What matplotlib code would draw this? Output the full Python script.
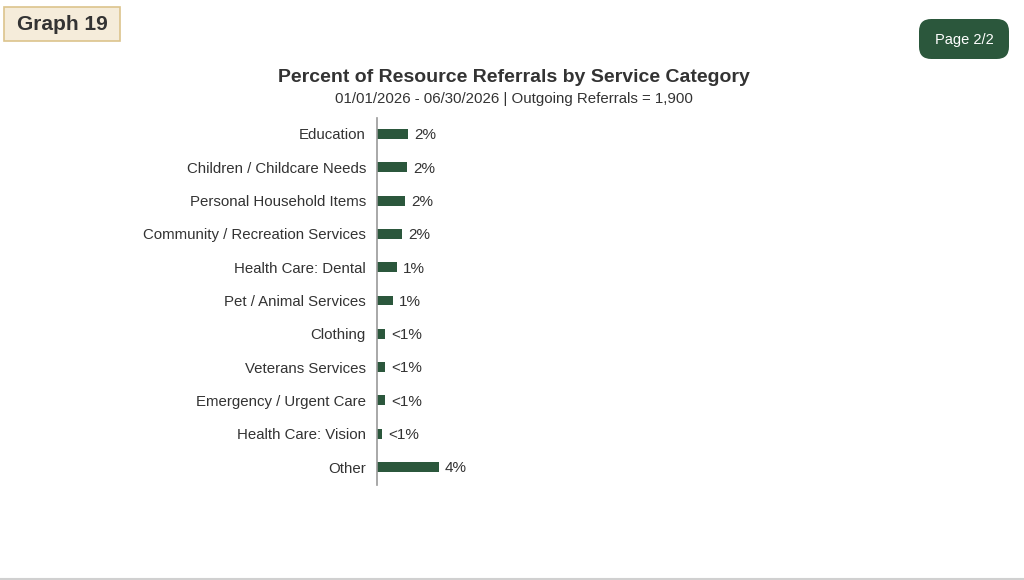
import numpy as np
import matplotlib
matplotlib.use('Agg')
import matplotlib.pyplot as plt
from matplotlib.patches import FancyBboxPatch, Rectangle

plt.rcParams['font.family'] = ['Liberation Sans', 'DejaVu Sans']

categories = ['Education', 'Children / Childcare Needs', 'Personal Household Items',
              'Community / Recreation Services', 'Health Care: Dental', 'Pet / Animal Services',
              'Clothing', 'Veterans Services', 'Emergency / Urgent Care', 'Health Care: Vision',
              'Other']
values = [2.0, 1.95, 1.8, 1.6, 1.3, 1.05, 0.52, 0.52, 0.52, 0.33, 4.0]
labels = ['2%', '2%', '2%', '2%', '1%', '1%', '<1%', '<1%', '<1%', '<1%', '4%']

bar_color = '#2b573c'
text_color = '#333333'

fig = plt.figure(figsize=(10.24, 5.8), dpi=100)
W, H = 1024, 580

# plot area in pixels: x 377..1000, y 118..485
ax = fig.add_axes([377 / W, 1 - 485 / H, (1000 - 377) / W, (485 - 118) / H])
y = np.arange(len(categories))
ax.barh(y, values, height=0.3, color=bar_color)
px_per_pct = 15.5
ax.set_xlim(0, (1000 - 377) / px_per_pct)
ax.set_ylim(10.54, -0.48)
for yi, v, lab in zip(y, values, labels):
    ax.text(v + 6 / px_per_pct, yi + 0.04, lab, va='center', ha='left', fontsize=11, color=text_color)
ax.set_yticks(y)
ax.set_yticklabels(categories, fontsize=10.8, color=text_color)
ax.tick_params(axis='y', length=0, pad=8)
ax.set_xticks([])
for s in ['top', 'right', 'bottom']:
    ax.spines[s].set_visible(False)
ax.spines['left'].set_color('#999999')
ax.spines['left'].set_linewidth(1.2)

fig.text(514 / W, 1 - 78 / H, 'Percent of Resource Referrals by Service Category',
         ha='center', va='center', fontsize=14, fontweight='bold', color=text_color)
fig.text(514 / W, 1 - 99 / H, '01/01/2026 - 06/30/2026 | Outgoing Referrals = 1,900',
         ha='center', va='center', fontsize=10.8, color=text_color)

# "Graph 19" box
fig.patches.append(Rectangle((4 / W, 1 - 41 / H), 116 / W, 34 / H, transform=fig.transFigure,
                             facecolor='#f5ecda', edgecolor='#dcc48c', linewidth=1.2))
fig.text(62 / W, 1 - 24 / H, 'Graph 19', ha='center', va='center', fontsize=15,
         fontweight='bold', color=text_color)

# "Page 2/2" button
fig.patches.append(FancyBboxPatch((919 / W, 1 - 59 / H), 90 / W, 40 / H,
                                  boxstyle='round,pad=0,rounding_size=0.012',
                                  transform=fig.transFigure, facecolor='#2b573c',
                                  edgecolor='none', mutation_aspect=W / H))
fig.text(964 / W, 1 - 40 / H, 'Page 2/2', ha='center', va='center', fontsize=10.5, color='white')

# bottom rule
fig.add_artist(plt.Line2D([0, 1], [1 - 578.5 / H, 1 - 578.5 / H], transform=fig.transFigure,
                          color='#d0d0d0', linewidth=1.5))

fig.savefig('out.png', dpi=100, facecolor='white')
